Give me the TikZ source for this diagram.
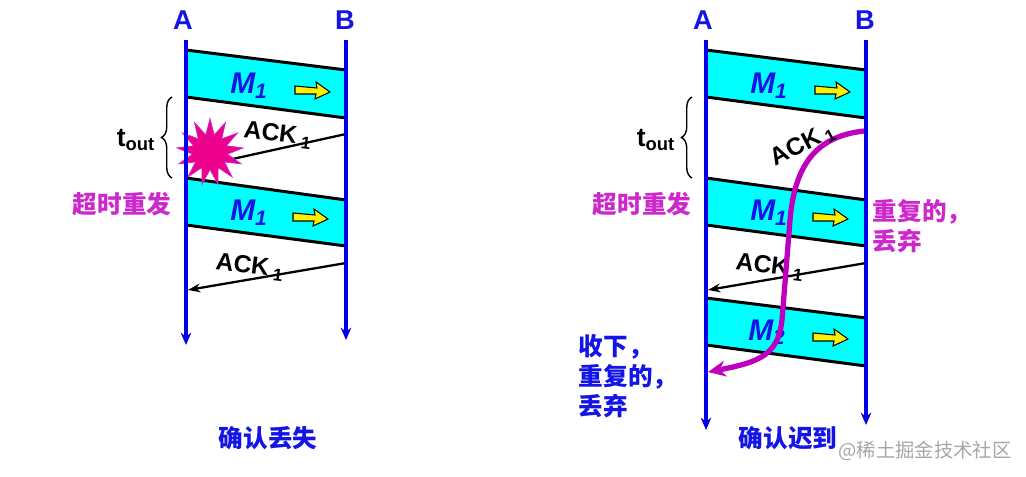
\documentclass[tikz,border=0pt]{standalone}
\usepackage{fontspec}
\setmainfont{Liberation Sans}
\newfontfamily\cjk{Noto Sans CJK SC}
\usetikzlibrary{shapes.geometric,decorations.pathreplacing,arrows.meta}
\definecolor{lblue}{RGB}{0,0,230}
\definecolor{pkt}{RGB}{0,255,255}
\definecolor{mag}{RGB}{204,40,204}
\definecolor{curv}{RGB}{190,0,190}
\definecolor{txtblue}{RGB}{20,20,230}
\tikzset{
 lifeline/.style={draw=lblue,line width=1.8pt,-{Stealth[length=7pt,width=6pt]}},
 pktbox/.style={draw=black,line width=1.7pt,fill=pkt},
 mlab/.style={font=\bfseries\itshape\fontsize{17}{17}\selectfont,text=txtblue},
 yarrowp/.style={draw=black,line width=0.6pt,fill=yellow},
 ack/.style={draw=black,line width=1.3pt},
 acklab/.style={font=\bfseries\fontsize{14}{14}\selectfont},
 endlab/.style={font=\bfseries\fontsize{15.5}{15.5}\selectfont,text=txtblue},
 cn/.style={font=\cjk\bfseries\fontsize{14}{17}\selectfont},
}
\newcommand{\yarr}[2]{\draw[yarrowp] (#1-17,#2-4) -- (#1+5,#2-2) -- (#1+4,#2-8) -- (#1+18,#2+2) -- (#1+3,#2+9) -- (#1+4,#2+4) -- (#1-17,#2+4) -- cycle;}
\begin{document}
\begin{tikzpicture}[x=0.02cm,y=-0.02cm]
\useasboundingbox (0,0) rectangle (1026,476);
\foreach \o/\n/\bot in {0/L/345,520/R/430}{
 \node[endlab] (A\n) at (183+\o,20) {A};
 \node[endlab] (B\n) at (345+\o,20) {B};
 \coordinate (At\n) at (186+\o,40); \coordinate (Ab\n) at (186+\o,\bot);
 \coordinate (Bt\n) at (346+\o,40); \coordinate (Bb\n) at (346+\o,\bot-5);
 \draw[pktbox] (186+\o,50) -- (346+\o,70) -- (346+\o,118) -- (186+\o,97) -- cycle;
 \node[mlab] (Ma\n) at (249+\o,86) {M\textsubscript{1}};
 \yarr{312+\o}{90}
 \draw[pktbox] (186+\o,178) -- (346+\o,200) -- (346+\o,246) -- (186+\o,225) -- cycle;
 \node[mlab] (Mb\n) at (249+\o,213) {M\textsubscript{1}};
 \yarr{310+\o}{217}
 \draw[decorate,decoration={brace,amplitude=6pt},line width=0.8pt] (172+\o,178) -- (172+\o,97);
 \node[font=\bfseries\fontsize{15}{15}\selectfont] (t\n) at (136+\o,140) {t\textsubscript{out}};
 \node[cn,text=mag] (re\n) at (122+\o,204) {超时重发};
 \coordinate (k1\n) at (346+\o,263); \coordinate (k2\n) at (188+\o,290);
 \draw[ack,-{Stealth[length=7pt,width=5pt]}] (k1\n) -- (k2\n);
 \node[acklab,rotate=-7] (kl\n) at (250+\o,267) {ACK\textsubscript{ 1}};
}
% left lost ack
\coordinate (la1) at (346,134); \coordinate (la2) at (228,160);
\draw[ack] (la1) -- (la2);
\node[acklab,rotate=-7] (lal) at (278,135) {ACK\textsubscript{ 1}};
\node[star,star points=13,star point ratio=1.9,fill=magenta,draw=mag,minimum size=38pt,inner sep=0pt] (boom) at (210,152) {};
% right extra packet
\draw[pktbox] (706,298) -- (866,318) -- (866,366) -- (706,345) -- cycle;
\node[mlab] (Mc) at (767,332) {M\textsubscript{2}};
\yarr{830}{337}
% lifelines on top
\foreach \n in {L,R}{
 \draw[lifeline] (At\n) -- (Ab\n);
 \draw[lifeline] (Bt\n) -- (Bb\n);
}
% delayed ack curve
\coordinate (c1) at (864,131); \coordinate (c2) at (708,372);
\draw[curv,line width=3pt,-{Stealth[length=10pt,width=9pt]}] (c1) .. controls (820,136) and (795,160) .. (790,220)
  -- (782,320) .. controls (778,355) and (760,362) .. (c2);
\node[acklab,rotate=28] (ral) at (803,145) {ACK\textsubscript{ 1}};
\node[cn,text=mag,align=left] (dup) at (922,226) {重复的，\\丢弃};
\node[cn,text=txtblue,align=left] (acc) at (628,376) {收下，\\重复的，\\丢弃};
\node[cn,text=txtblue] (capL) at (268,438) {确认丢失};
\node[cn,text=txtblue] (capR) at (788,438) {确认迟到};
\node[font=\cjk\fontsize{11}{11}\selectfont,text=gray!70] (wm) at (925,451) {@稀土掘金技术社区};
\end{tikzpicture}
\end{document}
